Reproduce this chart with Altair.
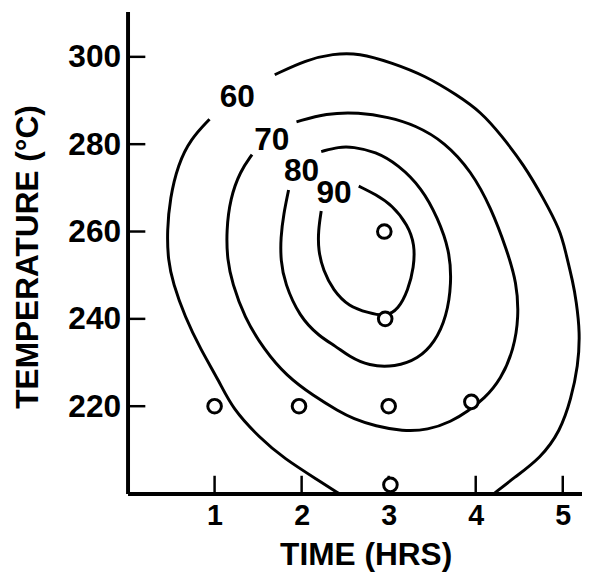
import altair as alt
import pandas as pd

# ---- data ----
# contour lines (time in hours, temperature in deg C); each list is one drawn stroke
c60a_t = [0.942, 0.726, 0.579, 0.488, 0.454, 0.465, 0.522, 0.658, 0.840, 1.056, 1.203, 1.521, 1.793, 2.202, 2.429]
c60a_T = [285.7, 281.2, 275.3, 267.6, 260.2, 253.4, 248.2, 240.5, 233.0, 225.6, 219.5, 212.7, 208.1, 202.9, 200.0]

c60b_t = [1.691, 2.054, 2.361, 2.656, 3.042, 3.417, 3.791, 4.064, 4.291, 4.552, 4.779, 4.972, 5.028, 5.119,
          5.153, 5.199, 5.176, 5.096, 4.972, 4.745, 4.438, 4.211]
c60b_T = [295.9, 299.3, 300.7, 300.9, 298.6, 295.7, 291.2, 287.3, 282.1, 275.3, 267.6, 260.2, 255.7, 248.2,
          244.3, 236.9, 229.2, 221.7, 214.3, 208.1, 203.6, 200.0]

c70_t = [1.430, 1.294, 1.180, 1.135, 1.146, 1.203, 1.339, 1.566, 1.827, 2.134, 2.429, 2.588, 2.849, 3.156,
         3.451, 3.723, 3.905, 4.098, 4.291, 4.438, 4.495, 4.472, 4.359, 4.177, 3.950, 3.644, 3.303, 2.997,
         2.656, 2.281, 1.941]
c70_T = [277.6, 273.8, 267.6, 260.2, 253.4, 248.2, 240.5, 233.0, 226.9, 222.4, 218.8, 217.2, 215.4, 214.3,
         214.5, 216.5, 218.8, 221.7, 226.2, 233.0, 240.5, 248.2, 255.7, 265.4, 273.8, 280.5, 284.4, 286.2,
         287.3, 287.1, 285.1]

c80_t = [1.850, 1.793, 1.759, 1.759, 1.805, 1.975, 2.202, 2.395, 2.543, 2.770, 3.076, 3.337, 3.530, 3.666,
         3.723, 3.700, 3.564, 3.383, 3.110, 2.849, 2.588, 2.429, 2.225]
c80_T = [269.5, 264.0, 258.6, 253.4, 248.2, 240.5, 236.0, 233.7, 231.4, 229.2, 229.0, 230.8, 234.6, 240.5,
         248.2, 255.7, 263.1, 269.9, 275.3, 278.3, 279.4, 279.4, 278.3]

c90_t = [2.225, 2.191, 2.191, 2.247, 2.361, 2.543, 2.770, 2.963, 3.110, 3.224, 3.290, 3.300, 3.220, 3.042,
         2.849, 2.656]
c90_T = [264.7, 260.2, 255.7, 251.1, 246.6, 242.8, 241.4, 240.5, 242.1, 246.6, 251.8, 257.0, 261.5, 266.0,
         268.5, 270.4]

# contour labels
lab_text = ["60", "70", "80", "90"]
lab_t = [1.26, 1.657, 1.998, 2.372]
lab_T = [290.7, 281.0, 273.8, 268.8]

# experimental runs (open circles)
pt_t = [1.0, 1.97, 3.0, 3.95, 2.96, 2.95, 3.02]
pt_T = [220.0, 220.0, 220.0, 221.0, 240.0, 260.0, 202.0]

# axis ticks
x_ticks = [1, 2, 3, 4, 5]
y_ticks = [220, 240, 260, 280, 300]

# ---- build tables ----
rows = []
for name, ts, Ts in [("60a", c60a_t, c60a_T), ("60b", c60b_t, c60b_T), ("70", c70_t, c70_T),
                     ("80", c80_t, c80_T), ("90", c90_t, c90_T)]:
    for i, (t, T) in enumerate(zip(ts, Ts)):
        rows.append({"seg": name, "i": i, "t": t, "T": T})
lines_df = pd.DataFrame(rows)
labels_df = pd.DataFrame({"label": lab_text, "t": lab_t, "T": lab_T})
points_df = pd.DataFrame({"t": pt_t, "T": pt_T})
xt_df = pd.DataFrame({"t": x_ticks})
yt_df = pd.DataFrame({"T": y_ticks})

W, H = 460, 488
xscale = alt.Scale(domain=[0, 5.221], nice=False, zero=False)
yscale = alt.Scale(domain=[200, 310.4], nice=False, zero=False)
FONT = "Liberation Sans"

x_axis = alt.Axis(values=x_ticks, ticks=False, tickSize=0, grid=False, domainColor="black", domainWidth=4,
                  labelFont=FONT, labelFontSize=29, labelFontWeight="bold", labelColor="black",
                  labelBaseline="alphabetic", labelPadding=31, labelAngle=0,
                  title="TIME (HRS)", titleFont=FONT, titleFontSize=32, titleFontWeight="bold",
                  titleColor="black", titleX=241, titleY=72, titleBaseline="alphabetic", titleAlign="center")
y_axis = alt.Axis(values=y_ticks, ticks=False, tickSize=0, grid=False, domainColor="black", domainWidth=4,
                  labelFont=FONT, labelFontSize=32, labelFontWeight="bold", labelColor="black",
                  labelAlign="right", labelBaseline="middle", labelPadding=7,
                  title="TEMPERATURE (°C)", titleFont=FONT, titleFontSize=32, titleFontWeight="bold",
                  titleColor="black", titleAngle=270, titleX=-101, titleY=248, titleBaseline="middle",
                  titleAlign="center")

X = alt.X("t:Q", scale=xscale, axis=x_axis)
Y = alt.Y("T:Q", scale=yscale, axis=y_axis)

lines = alt.Chart(lines_df).mark_line(interpolate="basis", color="black", strokeWidth=3).encode(
    x=X, y=Y, detail="seg:N", order="i:Q",
)

labels = alt.Chart(labels_df).mark_text(font=FONT, fontSize=32, fontWeight="bold", color="black",
                                         align="center", baseline="middle").encode(
    x=X, y=Y, text="label:N",
)

points = alt.Chart(points_df).mark_point(shape="circle", filled=True, fill="white", stroke="black",
                                          strokeWidth=3, size=190, opacity=1).encode(
    x=X, y=Y,
)

xticks = alt.Chart(xt_df).mark_rule(color="black", strokeWidth=2.5).encode(
    x=X, y=alt.value(470), y2=alt.value(487),
)

yticks = alt.Chart(yt_df).mark_rule(color="black", strokeWidth=2.5).encode(
    y=Y, x=alt.value(0), x2=alt.value(18),
)

chart = alt.layer(lines, xticks, yticks, points, labels).properties(
    width=W, height=H,
    autosize=alt.AutoSizeParams(type="none"),
    padding={"left": 121, "top": 0, "right": 0, "bottom": 80},
    background="white",
).configure_view(stroke=None)

chart.save("out.html", embed_options={"renderer": "svg", "actions": False})
